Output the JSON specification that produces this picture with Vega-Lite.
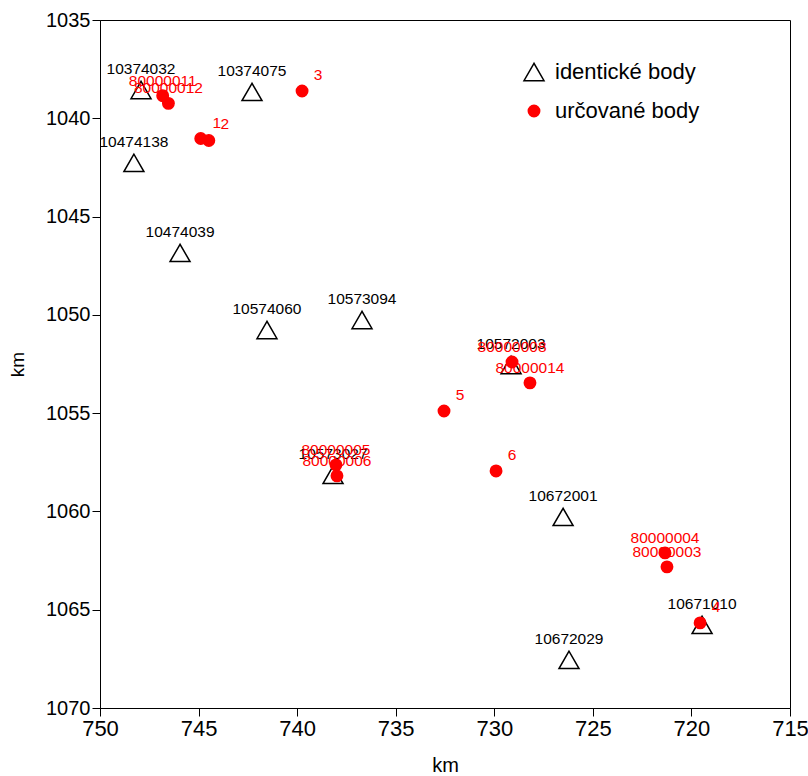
{
  "$schema": "https://vega.github.io/schema/vega-lite/v6.json",
  "autosize": "none",
  "width": 690,
  "height": 688,
  "padding": {"left": 100, "top": 20, "right": 18, "bottom": 68},
  "background": "white",
  "config": {
    "view": {"stroke": "#000000", "strokeWidth": 1},
    "axis": {"grid": false, "domainColor": "#000000", "tickColor": "#000000", "labelColor": "#000000", "titleColor": "#000000", "titleFontWeight": "normal"}
  },
  "datasets": {
    "pts": [
      {"name": "10374032", "x": 747.92, "y": 1038.56, "typ": "identické body"},
      {"name": "10374075", "x": 742.29, "y": 1038.66, "typ": "identické body"},
      {"name": "10474138", "x": 748.28, "y": 1042.27, "typ": "identické body"},
      {"name": "10474039", "x": 745.94, "y": 1046.85, "typ": "identické body"},
      {"name": "10574060", "x": 741.53, "y": 1050.77, "typ": "identické body"},
      {"name": "10573094", "x": 736.71, "y": 1050.26, "typ": "identické body"},
      {"name": "10572003", "x": 729.15, "y": 1052.55, "typ": "identické body"},
      {"name": "10573027", "x": 738.18, "y": 1058.14, "typ": "identické body"},
      {"name": "10672001", "x": 726.51, "y": 1060.28, "typ": "identické body"},
      {"name": "10671010", "x": 719.46, "y": 1065.77, "typ": "identické body"},
      {"name": "10672029", "x": 726.21, "y": 1067.55, "typ": "identické body"},
      {"name": "80000011", "x": 746.82, "y": 1038.85, "typ": "určované body"},
      {"name": "80000012", "x": 746.53, "y": 1039.24, "typ": "určované body"},
      {"name": "1", "x": 744.89, "y": 1041.03, "typ": "určované body"},
      {"name": "2", "x": 744.48, "y": 1041.13, "typ": "určované body"},
      {"name": "3", "x": 739.75, "y": 1038.61, "typ": "určované body"},
      {"name": "80000008", "x": 729.1, "y": 1052.4, "typ": "určované body"},
      {"name": "80000014", "x": 728.19, "y": 1053.46, "typ": "určované body"},
      {"name": "5", "x": 732.55, "y": 1054.89, "typ": "určované body"},
      {"name": "6", "x": 729.91, "y": 1057.94, "typ": "určované body"},
      {"name": "80000005", "x": 738.03, "y": 1057.63, "typ": "určované body"},
      {"name": "80000006", "x": 737.98, "y": 1058.19, "typ": "určované body"},
      {"name": "80000004", "x": 721.34, "y": 1062.11, "typ": "určované body"},
      {"name": "80000003", "x": 721.24, "y": 1062.82, "typ": "určované body"},
      {"name": "4", "x": 719.56, "y": 1065.67, "typ": "určované body"}
    ]
  },
  "data": {"name": "pts"},
  "encoding": {
    "x": {
      "field": "x", "type": "quantitative",
      "scale": {"domain": [715, 750], "reverse": true, "nice": false, "zero": false},
      "axis": {"values": [750, 745, 740, 735, 730, 725, 720, 715], "format": "d", "title": "km", "tickSize": 8, "labelFont": "Liberation Sans", "labelFontSize": 22, "labelPadding": 2, "titleFont": "Liberation Sans", "titleFontSize": 20, "titlePadding": 16, "labelFlush": false}
    },
    "y": {
      "field": "y", "type": "quantitative",
      "scale": {"domain": [1035, 1070], "reverse": true, "nice": false, "zero": false},
      "axis": {"values": [1035, 1040, 1045, 1050, 1055, 1060, 1065, 1070], "format": "d", "title": "km", "tickSize": 8, "labelFont": "Liberation Sans", "labelFontSize": 20, "labelPadding": 2, "titleFont": "Liberation Sans", "titleFontSize": 19, "titlePadding": 18, "labelFlush": false}
    }
  },
  "layer": [
    {
      "mark": {"type": "point", "strokeWidth": 1.5, "opacity": 1},
      "encoding": {
        "shape": {"field": "typ", "type": "nominal", "scale": {"domain": ["identické body", "určované body"], "range": ["triangle-up", "circle"]}, "legend": {"title": null, "orient": "none", "legendX": 423, "legendY": 41, "padding": 0, "labelFont": "Liberation Sans", "labelFontSize": 22, "labelOffset": 10, "rowPadding": 16, "symbolStrokeWidth": 1.5, "encode": {"labels": {"update": {"fill": {"signal": "datum.value == 'určované body' ? '#ff0000' : '#000000'"}}}}}},
        "fill": {"field": "typ", "type": "nominal", "scale": {"domain": ["identické body", "určované body"], "range": ["transparent", "#ff0000"]}},
        "stroke": {"field": "typ", "type": "nominal", "scale": {"domain": ["identické body", "určované body"], "range": ["#000000", "#ff0000"]}},
        "size": {"field": "typ", "type": "ordinal", "scale": {"domain": ["identické body", "určované body"], "range": [400, 130]}}
      }
    },
    {
      "transform": [{"filter": "datum.typ == 'identické body'"}],
      "mark": {"type": "text", "font": "Liberation Sans", "fontSize": 15.5, "dy": -21, "color": "#000000"},
      "encoding": {"text": {"field": "name"}}
    },
    {
      "transform": [{"filter": "datum.typ == 'určované body' && length(datum.name) > 2"}],
      "mark": {"type": "text", "font": "Liberation Sans", "fontSize": 15.5, "dy": -15, "color": "#ff0000"},
      "encoding": {"text": {"field": "name"}}
    },
    {
      "transform": [{"filter": "datum.typ == 'určované body' && length(datum.name) <= 2"}],
      "mark": {"type": "text", "font": "Liberation Sans", "fontSize": 15.5, "dx": 16, "dy": -16, "color": "#ff0000"},
      "encoding": {"text": {"field": "name"}}
    }
  ]
}
